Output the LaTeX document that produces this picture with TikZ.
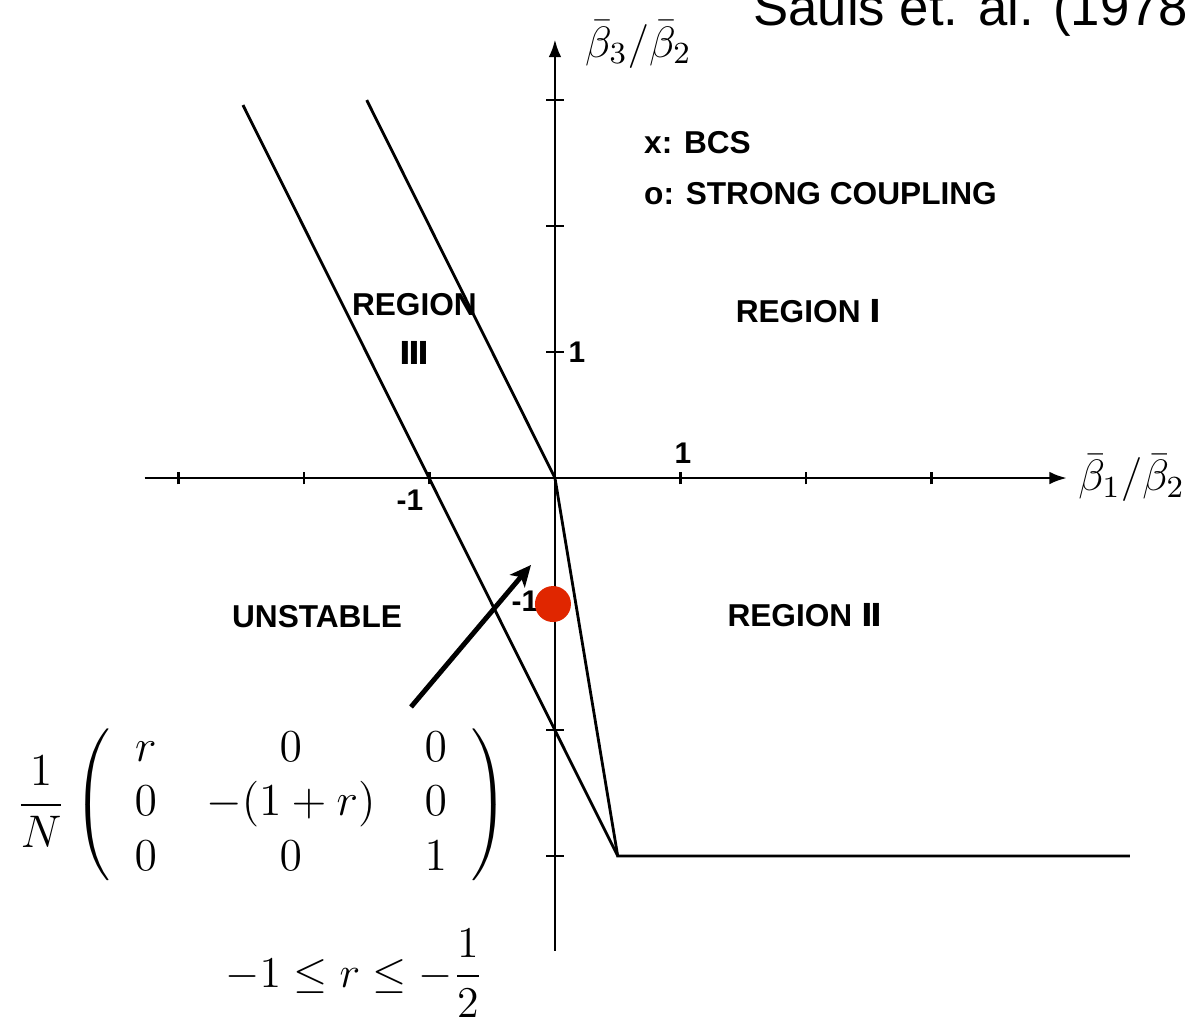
\RequirePackage{fix-cm}
\documentclass[tikz,border=0pt]{standalone}
\usepackage{amsmath}
\usepackage{fontspec}
\usepackage{tikz}
\usepackage{xcolor}
\usetikzlibrary{arrows.meta}

\newfontfamily\labelfont{Liberation Sans}
\newfontfamily\numeralfont{DejaVu Sans}
\definecolor{dotred}{RGB}{224,38,0}

\tikzset{
  regionlbl/.style={font=\labelfont\bfseries\fontsize{9}{12}\selectfont, inner sep=0pt},
  ticklbl/.style={font=\labelfont\bfseries\fontsize{8.5}{10}\selectfont, inner sep=0pt},
  axislbl/.style={font=\fontsize{12.5}{15}\selectfont, inner sep=0pt, anchor=west},
}

\begin{document}
\begin{tikzpicture}[x=1.255cm, y=1.26cm, line width=0.8pt]
    \useasboundingbox (-4.422,-4.357) rectangle (5.036,3.794);
    \clip (-4.422,-4.357) rectangle (5.036,3.794);

    % axes
    \coordinate (xstart) at (-3.27, 0);
    \coordinate (xend)   at ( 4.08, 0);
    \coordinate (ystart) at ( 0, -3.75);
    \coordinate (yend)   at ( 0,  3.48);
    \draw[-{Latex[length=5pt,width=3.6pt]}] (xstart) -- (xend);
    \draw[-{Latex[length=5pt,width=3.6pt]}, line width=0.7pt] (ystart) -- (yend);
    \foreach \t in {-3,-2,-1,1,2,3} {
        \draw (\t,-0.05) -- (\t,0.05);
        \draw (-0.07,\t) -- (0.07,\t);
    }

    \node (xlabel) at (4.16, 0.0)  [axislbl] {$\bar{\beta}_1/\bar{\beta}_2$};
    \node (ylabel) at (0.23, 3.44) [axislbl] {$\bar{\beta}_3/\bar{\beta}_2$};

    \node (xone)   at ( 1.02,  0.20) [ticklbl] {1};
    \node (yone)   at ( 0.175, 1.00) [ticklbl] {1};
    \node (xmone)  at (-1.155,-0.175) [ticklbl] {-1};
    \node (ymone)  at (-0.24, -0.98) [ticklbl] {-1};

    % phase boundaries
    \coordinate (Atop) at (-2.486, 2.96);
    \coordinate (Btop) at (-1.5, 3.0);
    \coordinate (O)    at (0, 0);
    \coordinate (kink) at (0.5, -3);
    \coordinate (Bend) at (4.58, -3);
    \draw (Atop) -- (kink);
    \draw (Btop) -- (O) -- (kink) -- (Bend);

    % labels
    \node (bcs)    at (0.70, 2.66) [regionlbl, anchor=west] {x: BCS};
    \node (strong) at (0.70, 2.26) [regionlbl, anchor=west] {o: STRONG COUPLING};
    \node (reg1)   at (2.02, 1.325) [regionlbl] {REGION {\numeralfont Ⅰ}};
    \node (reg3)   at (-1.12, 1.18) [regionlbl, align=center] {REGION\\[2pt]{\numeralfont Ⅲ}};
    \node (unst)   at (-1.896, -1.10) [regionlbl] {UNSTABLE};
    \node (reg2)   at (1.99, -1.087) [regionlbl] {REGION {\numeralfont Ⅱ}};

    \node (cite) at (1.57, 3.595) [anchor=base west, inner sep=0pt, font=\labelfont\fontsize{15}{18}\selectfont] {Sauls et. al. (1978)};

    % marked point and pointer
    \node (dot) at (-0.016, -1.0) [circle, fill=dotred, minimum size=0.36cm, inner sep=0pt] {};
    \coordinate (ptrtail) at (-1.147, -1.817);
    \coordinate (ptrhead) at (-0.191, -0.69);
    \draw[-{Stealth[length=6pt,width=5.5pt,inset=1.5pt]}, line width=1.4pt] (ptrtail) -- (ptrhead);

    % order parameter
    \node (mat) at (-2.33, -2.595) [font=\fontsize{13}{15.6}\selectfont]
        {$\displaystyle \frac{1}{N}\setlength\arraycolsep{7pt}\left(\hspace{7pt}\begin{matrix} r & 0 & 0\\ 0 & -(1+r) & 0\\ 0 & 0 & 1\end{matrix}\hspace{7pt}\right)$};
    \node (range) at (-1.60, -3.93) [font=\fontsize{12.5}{15}\selectfont]
        {$-1 \le r \le -\dfrac{1}{2}$};
\end{tikzpicture}
\end{document}
